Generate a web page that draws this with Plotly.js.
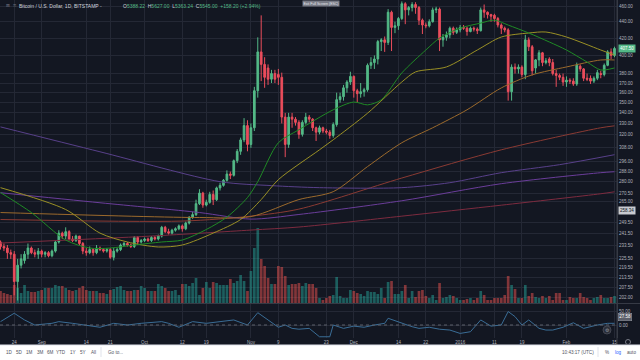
<!DOCTYPE html>
<html><head><meta charset="utf-8">
<script src="https://cdn.plot.ly/plotly-3.0.1.min.js"></script>
<style>html,body{margin:0;padding:0;background:#131722;overflow:hidden}#chart{width:640px;height:360px}</style>
</head><body><div id="chart"></div>
<script>
// ---- data (BTC/USD daily, Bitstamp) ----
const START_DATE = '2015-08-20';
const OPEN = [236,233,232,229,228,211,221,224,228,232, 229,228,230,228,229,227,230,236,242,240,
 243,238,237,240,235,230,229,231,229,232, 231,230,231,226,230,231,234,235,234,233,
 239,236,237,238,237,239,238,240,246,243, 242,244,245,247,245,249,253,255,263,271,
 262,264,270,266,275,277,281,286,285,297, 305,315,328,311,326,362,404,390,386,374,
 380,379,376,336,311,336,334,331,320,331, 336,334,326,322,326,323,322,319,329,353,
 356,365,371,377,362,359,361,363,389,392, 396,416,418,415,452,433,435,444,463,455,
 458,462,458,442,436,435,440,455,456,418, 421,424,432,427,430,433,432,428,432,431,
 429,455,452,449,448,444,436,432,430,361, 387,385,387,379,418,410,386,395,403,392,
 396,392,380,378,376,371,373,372,369,388, 385,375,375,372,375,380,379,389,404,400];
const HIGH = [237,235,234,231,230,225,228,230,235,233, 231,232,231,230,230,231,237,244,243,246,
 244,240,241,240,236,232,233,232,234,233, 232,232,232,232,232,235,236,236,235,240,
 240,238,239,239,240,240,241,247,247,245, 245,246,248,248,250,254,257,266,274,272,
 266,272,273,276,279,282,289,288,298,307, 317,335,333,330,366,421,448,398,390,384,
 384,385,381,340,340,340,336,333,333,340, 338,335,327,328,327,325,324,331,360,360,
 368,373,382,378,364,370,365,391,398,400, 418,420,422,456,454,440,446,466,465,460,
 465,465,460,444,439,443,458,459,458,425, 428,434,434,433,436,436,434,434,434,433,
 458,462,453,450,450,446,438,434,432,390, 391,390,389,424,421,412,396,406,404,397,
 398,396,384,380,380,377,375,375,392,390, 386,380,378,377,384,383,391,406,408,410];
const LOW = [231,230,225,225,203,200,219,222,225,228, 226,225,226,226,226,226,229,235,238,238,
 237,236,236,234,228,227,228,227,228,230, 229,229,225,224,229,230,233,233,232,232,
 234,235,236,236,236,237,237,239,242,241, 241,243,244,243,244,248,252,254,262,260,
 261,263,262,265,273,276,280,282,284,295, 302,313,305,308,323,355,372,365,368,370,
 370,368,330,300,308,326,328,316,318,329, 331,323,314,320,321,320,316,317,327,350,
 352,360,368,355,350,355,356,361,385,385, 390,405,404,412,405,426,430,442,437,448,
 453,450,436,425,432,433,439,451,405,410, 417,420,424,425,427,430,423,427,428,425,
 428,445,444,440,440,433,425,427,352,352, 380,380,376,374,405,378,380,388,388,390,
 388,378,366,373,367,366,369,367,367,382, 372,372,369,370,373,375,377,388,396,398];
const CLOSE = [233,232,229,228,211,221,225,228,232,229, 228,230,228,229,227,230,236,242,240,243,
 238,237,240,235,230,229,231,229,232,231, 230,231,226,230,231,234,235,234,233,239,
 236,237,238,237,239,238,240,246,243,242, 244,245,247,245,249,253,255,263,271,262,
 264,270,266,275,277,281,286,285,297,305, 315,328,311,326,362,404,390,376,374,380,
 374,376,336,311,336,334,331,320,331,336, 334,326,322,326,323,322,319,329,353,356,
 365,371,377,362,359,361,363,389,392,396, 416,418,415,452,433,435,444,463,455,458,
 462,458,442,436,435,440,455,456,418,421, 424,432,427,430,433,432,428,432,431,429,
 455,452,449,447,444,436,432,430,361,387, 385,387,379,418,410,383,395,403,392,394,
 392,380,378,376,371,373,372,369,389,385, 375,374,372,375,381,379,389,404,400,408];
const VOLUME = [12,10,9,8,18,15,10,18,12,11, 11,12,13,15,15,15,18,17,17,15,
 13,12,13,15,17,13,12,12,12,10, 10,9,13,14,16,17,13,12,12,13,
 13,17,15,12,12,12,19,17,15,12, 12,13,8,19,19,17,20,25,8,15,
 21,15,21,20,18,18,18,24,20,22, 28,22,12,32,55,75,44,37,25,19,
 19,37,36,27,18,19,19,20,17,20, 19,19,15,5,3,5,7,8,26,7,
 5,5,13,12,10,9,7,12,11,11, 9,15,5,21,22,9,9,12,18,5,
 12,6,12,13,7,5,8,3,20,5, 6,8,7,5,3,3,4,5,3,5,
 12,8,3,3,5,5,5,8,27,18, 14,5,5,18,7,10,6,5,7,5,
 7,3,10,10,3,3,6,5,5,10, 6,5,3,5,6,8,5,5,6,7];

// moving-average lines
const MA_GREEN_X = ['2015-08-20','2015-08-29','2015-09-08','2015-09-15','2015-09-21','2015-09-28','2015-10-06','2015-10-12','2015-10-19','2015-10-25','2015-10-31','2015-11-03','2015-11-09','2015-11-15','2015-11-25','2015-12-01','2015-12-05','2015-12-09','2015-12-15','2015-12-22','2015-12-26','2016-01-01','2016-01-07','2016-01-11','2016-01-15','2016-01-21','2016-01-27','2016-02-01','2016-02-07','2016-02-11','2016-02-15'];
const MA_GREEN_Y = [271.4,256.5,237.3,232.0,232.0,234.0,236.0,237.3,244.5,253.2,267.6,279.9,312.5,324.2,343.0,350.6,347.8,352.8,380.7,406.2,420.1,432.2,438.3,442.0,435.9,426.2,415.5,406.2,392.6,383.9,386.1];
const MA_OLIVE_X = ['2015-08-20','2015-09-08','2015-09-18','2015-09-26','2015-10-05','2015-10-12','2015-10-21','2015-10-29','2015-11-04','2015-11-09','2015-11-21','2015-11-25','2015-12-05','2015-12-15','2015-12-19','2015-12-28','2016-01-06','2016-01-13','2016-01-21','2016-01-26','2016-02-01','2016-02-11','2016-02-15'];
const MA_OLIVE_Y = [275.2,258.7,242.0,236.0,232.7,234.0,242.0,251.5,266.1,281.5,306.3,315.1,339.7,371.1,381.8,387.2,406.2,421.4,426.2,427.4,421.4,406.2,400.5];
const MA_BROWN_X = ['2015-08-20','2015-10-17','2015-11-01','2015-11-15','2015-11-25','2015-12-05','2015-12-15','2015-12-24','2016-01-03','2016-01-13','2016-01-22','2016-02-01','2016-02-11','2016-02-15'];
const MA_BROWN_Y = [256.5,252.9,253.6,266.1,272.1,292.1,312.5,326.0,343.0,364.9,378.6,387.2,394.9,394.9];
const MA_DKRED_X = ['2015-08-20','2015-10-12','2015-11-01','2015-11-15','2015-12-15','2016-01-13','2016-02-11','2016-02-15'];
const MA_DKRED_Y = [251.5,250.4,253.9,259.0,282.8,306.3,326.0,327.8];
const MA_PURPLE1_X = ['2015-08-20','2015-09-18','2015-10-23','2015-11-07','2015-11-21','2015-12-15','2015-12-29','2016-01-13','2016-01-30','2016-02-15'];
const MA_PURPLE1_Y = [326.8,304.6,279.9,276.8,275.2,275.2,279.1,287.1,293.7,302.1];
const MA_PURPLE2_X = ['2015-08-20','2015-09-18','2015-10-17','2015-11-01','2015-11-15','2015-12-15','2016-01-13','2016-02-11','2016-02-15'];
const MA_PURPLE2_Y = [271.3,263.7,256.5,251.8,255.1,265.2,278.3,287.1,287.9];
const MA_LORED_X = ['2015-08-20','2015-10-03','2015-11-01','2015-11-15','2015-12-15','2016-01-13','2016-02-11','2016-02-15'];
const MA_LORED_Y = [235.3,240.0,244.1,246.2,253.9,261.9,270.5,272.0];

// oscillator in lower pane
const IND_X = ['2015-08-20','2015-08-24','2015-08-27','2015-08-30','2015-09-04','2015-09-06','2015-09-10','2015-09-14','2015-09-18','2015-09-22','2015-09-26','2015-09-30','2015-10-06','2015-10-08','2015-10-11','2015-10-15','2015-10-19','2015-10-23','2015-10-27','2015-10-31','2015-11-03','2015-11-06','2015-11-09','2015-11-11','2015-11-13','2015-11-15','2015-11-18','2015-11-21','2015-11-24','2015-11-25','2015-11-28','2015-12-01','2015-12-04','2015-12-07','2015-12-10','2015-12-11','2015-12-15','2015-12-18','2015-12-20','2015-12-23','2015-12-26','2015-12-29','2016-01-01','2016-01-04','2016-01-07','2016-01-10','2016-01-13','2016-01-15','2016-01-17','2016-01-19','2016-01-21','2016-01-24','2016-01-26','2016-01-28','2016-01-31','2016-02-03','2016-02-06','2016-02-10','2016-02-13','2016-02-15'];
const IND_Y = [12,42,18,0,6,12,6,0,-8,6, 0,6,12,6,-8,12,6,12,18,0, 44,18,-8,0,-12,-15,-12,-42,-42,0, -12,-4,-8,0,6,24,6,-6,-12,-8, -15,-18,-30,-24,18,-4,0,48,30,0, 18,-12,-18,-18,-8,8,-12,0,6,6];

// axis labels
const PRICE_TICKS = [460,440,420,400,380,370,360,350,340,330,320,308,296,288,280,270.5,265,249.5,241.5,233.5,225.5,219.5,213.5,207.5,202];
const DATE_TICKS = ['2015-08-24','2015-09-01','2015-09-14','2015-09-21','2015-10-01','2015-10-12','2015-10-19','2015-11-01','2015-11-09','2015-11-23','2015-12-01','2015-12-14','2015-12-22','2016-01-01','2016-01-11','2016-01-19','2016-02-01','2016-02-15'];
const DATE_LABELS = ['24','Sep','14','21','Oct','12','19','Nov','9','23','Dec','14','22','2016','11','19','Feb','15'];
const LAST_PRICE = 407.50, H_LINE = 258.34, IND_LAST = 27.58;

// ---- build ----
function days(start, n){const t0=Date.parse(start+'T00:00:00Z');const o=[];for(let i=0;i<n;i++)o.push(new Date(t0+i*864e5).toISOString().slice(0,10));return o;}
const DATES = days(START_DATE, OPEN.length);
const UP='#53b987', DN='#eb4d5c';
const volColors = OPEN.map((o,i)=> CLOSE[i]>=o ? 'rgba(38,166,154,0.5)' : 'rgba(239,83,80,0.5)');
const L10 = Math.log10;
const FONT = 'Liberation Sans, Arial, sans-serif';
const TXT = '#b2b5be', GRID = '#242835';

function ma(x,y,color){return {type:'scatter',mode:'lines',x:x,y:y,yaxis:'y3',line:{color:color,width:1,shape:'spline',smoothing:0.8},hoverinfo:'skip'};}

const traces = [
  {type:'bar',x:DATES,y:VOLUME,yaxis:'y',marker:{color:volColors,line:{width:0}},width:0.78*864e5,hoverinfo:'skip'},
  ma(MA_LORED_X,MA_LORED_Y,'#7d2b3f'),
  ma(MA_DKRED_X,MA_DKRED_Y,'#8a3a33'),
  ma(MA_PURPLE2_X,MA_PURPLE2_Y,'#6a3d9a'),
  ma(MA_PURPLE1_X,MA_PURPLE1_Y,'#58408a'),
  ma(MA_BROWN_X,MA_BROWN_Y,'#9c6a2c'),
  ma(MA_OLIVE_X,MA_OLIVE_Y,'#9a9025'),
  ma(MA_GREEN_X,MA_GREEN_Y,'#1f8a25'),
  {type:'candlestick',x:DATES,open:OPEN,high:HIGH,low:LOW,close:CLOSE,yaxis:'y3',whiskerwidth:0,
   increasing:{line:{color:UP,width:1},fillcolor:UP},decreasing:{line:{color:DN,width:1},fillcolor:DN},hoverinfo:'skip'},
  {type:'scatter',mode:'lines',x:IND_X,y:IND_Y,yaxis:'y2',line:{color:'#3a6d96',width:1},hoverinfo:'skip'}
];

const PH = 338; // plot height in px
const py = p => (PH - p)/PH; // pixel row -> paper y
const px = p => p/617;       // pixel col -> paper x
const YEL = '#dcf21f';

const shapes = [
  {type:'line',xref:'paper',yref:'y3',x0:0,x1:1,y0:L10(H_LINE),y1:L10(H_LINE),line:{color:'rgba(180,183,190,0.55)',width:1}},
  {type:'line',xref:'paper',yref:'y2',x0:0,x1:1,y0:0,y1:0,line:{color:'#5d606b',width:1,dash:'dot'}},
  {type:'line',xref:'paper',yref:'paper',x0:0,x1:px(640),y0:py(303.5),y1:py(303.5),line:{color:'#363a45',width:1}},
  {type:'line',xref:'paper',yref:'paper',x0:1,x1:1,y0:py(345),y1:1,line:{color:'#363a45',width:1}},
  {type:'rect',xref:'paper',yref:'paper',x0:px(-2),x1:px(642),y0:py(345),y1:py(362),fillcolor:'#ffffff',line:{color:'#e0e3eb',width:1}},
  {type:'line',xref:'paper',yref:'paper',x0:px(101),x1:px(101),y0:py(347),y1:py(357),line:{color:'#e0e3eb',width:1}},
  {type:'line',xref:'paper',yref:'paper',x0:px(598),x1:px(598),y0:py(347),y1:py(357),line:{color:'#e0e3eb',width:1}},
  {type:'circle',xref:'paper',yref:'paper',x0:px(603),x1:px(611),y0:py(334),y1:py(326),fillcolor:'#2a2e39',line:{color:'#434651',width:1}},
  {type:'circle',xref:'paper',yref:'paper',x0:px(625.5),x1:px(630.5),y0:py(344.5),y1:py(339.5),line:{color:'#787b86',width:1}},
  // hand-drawn annotations
  {type:'line',xref:'x',yref:'y3',x0:'2015-10-24 11:00',y0:L10(264.4),x1:'2016-02-12 05:00',y1:L10(366.8),line:{color:YEL,width:2.5}},
  {type:'line',xref:'x',yref:'y3',x0:'2016-02-05 05:45',y0:L10(372.1),x1:'2016-02-12 05:00',y1:L10(366.8),line:{color:YEL,width:2}},
  {type:'line',xref:'x',yref:'y3',x0:'2016-02-09 07:40',y0:L10(352.8),x1:'2016-02-12 05:00',y1:L10(366.8),line:{color:YEL,width:2}},
  {type:'circle',xref:'x',yref:'y3',x0:'2015-10-20 09:00',x1:'2015-11-02 12:00',y0:L10(231.3),y1:L10(259.9),line:{color:YEL,width:2}}
];

function tb(text,x,color,anchor){return {text:text,xref:'paper',yref:'paper',x:px(x),y:py(352.5),xanchor:anchor||'center',yanchor:'middle',showarrow:false,font:{family:FONT,size:4.6,color:color||'#50535e'}};}
const G = c => '<span style="color:'+UP+'">'+c+'</span>';
const annotations = [
  {text:'⊞  ≡',xref:'paper',yref:'paper',x:px(4),y:py(6),xanchor:'left',yanchor:'middle',showarrow:false,font:{family:'DejaVu Sans',size:4.5,color:'#787b86'}},
  {text:'Bitcoin / U.S. Dollar, 1D, BITSTAMP -',xref:'paper',yref:'paper',x:px(17),y:py(6),xanchor:'left',yanchor:'middle',showarrow:false,font:{family:FONT,size:5,color:'#d1d4dc'}},
  {text:'O'+G('5388.22')+'  H'+G('5627.00')+'  L'+G('5363.24')+'  C'+G('5545.00')+'  '+G('+158.20 (+2.94%)'),xref:'paper',yref:'paper',x:px(121),y:py(6),xanchor:'left',yanchor:'middle',showarrow:false,font:{family:FONT,size:5,color:'#d1d4dc'}},
  {text:'Exit Full Screen (ESC)',xref:'paper',yref:'paper',x:px(321),y:1,xanchor:'center',yanchor:'top',showarrow:false,bgcolor:'#787b86',borderpad:0.5,font:{family:FONT,size:3.5,color:'#e6e8ee'}},
  {text:LAST_PRICE.toFixed(2),xref:'paper',yref:'y3',x:1,y:L10(LAST_PRICE),xanchor:'left',yanchor:'middle',xshift:1,showarrow:false,bgcolor:UP,borderpad:1,font:{family:FONT,size:4.5,color:'#ffffff'}},
  {text:H_LINE.toFixed(2),xref:'paper',yref:'y3',x:1,y:L10(H_LINE),xanchor:'left',yanchor:'middle',xshift:1,showarrow:false,bgcolor:'#c8cad0',borderpad:1,font:{family:FONT,size:4.5,color:'#131722'}},
  {text:IND_LAST.toFixed(2),xref:'paper',yref:'y2',x:1,y:IND_LAST,xanchor:'left',yanchor:'middle',xshift:1,showarrow:false,bgcolor:'#5d606b',bordercolor:'#9598a1',borderwidth:0.5,borderpad:0.8,font:{family:FONT,size:4.5,color:'#ffffff'}},
  {text:'⚙',xref:'paper',yref:'paper',x:px(607),y:py(330),xanchor:'center',yanchor:'middle',showarrow:false,font:{family:'DejaVu Sans',size:5,color:'#9598a1'}},
  tb('1D',9),tb('5D',19),tb('1M',29),tb('3M',40),tb('6M',50),tb('YTD',61),tb('1Y',73),tb('5Y',83),tb('All',93),
  tb('Go to...',106,null,'left'),
  tb('10:43:17 (UTC)',578),tb('%',607),tb('log',618,'#2962ff'),tb('auto',631)
];

const layout = {
  width:640,height:360,margin:{l:0,r:23,t:0,b:22,pad:0},
  paper_bgcolor:'#131722',plot_bgcolor:'#131722',showlegend:false,
  font:{family:FONT,color:TXT,size:4.5},
  xaxis:{type:'date',anchor:'y2',range:['2015-08-19 20:24','2016-02-15 17:31'],tickvals:DATE_TICKS,ticktext:DATE_LABELS,
    ticks:'',showgrid:true,gridcolor:GRID,gridwidth:1,zeroline:false,showline:false,rangeslider:{visible:false},
    tickfont:{family:FONT,size:4.5,color:TXT},fixedrange:true},
  yaxis:{domain:[py(303),1],range:[0,303],visible:false,fixedrange:true,showgrid:false},
  yaxis3:{overlaying:'y',anchor:'x',type:'log',side:'right',range:[L10(198.6),L10(467.9)],tickvals:PRICE_TICKS,
    ticktext:PRICE_TICKS.map(v=>v.toFixed(2)),ticks:'',showgrid:true,gridcolor:GRID,zeroline:false,showline:true,linecolor:'#363a45',
    tickfont:{family:FONT,size:4.5,color:TXT},fixedrange:true},
  yaxis2:{domain:[0,py(304)],anchor:'x',range:[-46.4,75],side:'right',tickvals:[50,0],ticktext:['50.00','0.00'],ticks:'',
    showgrid:true,gridcolor:GRID,zeroline:false,showline:true,linecolor:'#363a45',tickfont:{family:FONT,size:4.5,color:TXT},fixedrange:true},
  shapes:shapes,annotations:annotations
};
Plotly.newPlot('chart',traces,layout,{staticPlot:true,displayModeBar:false});
</script></body></html>
